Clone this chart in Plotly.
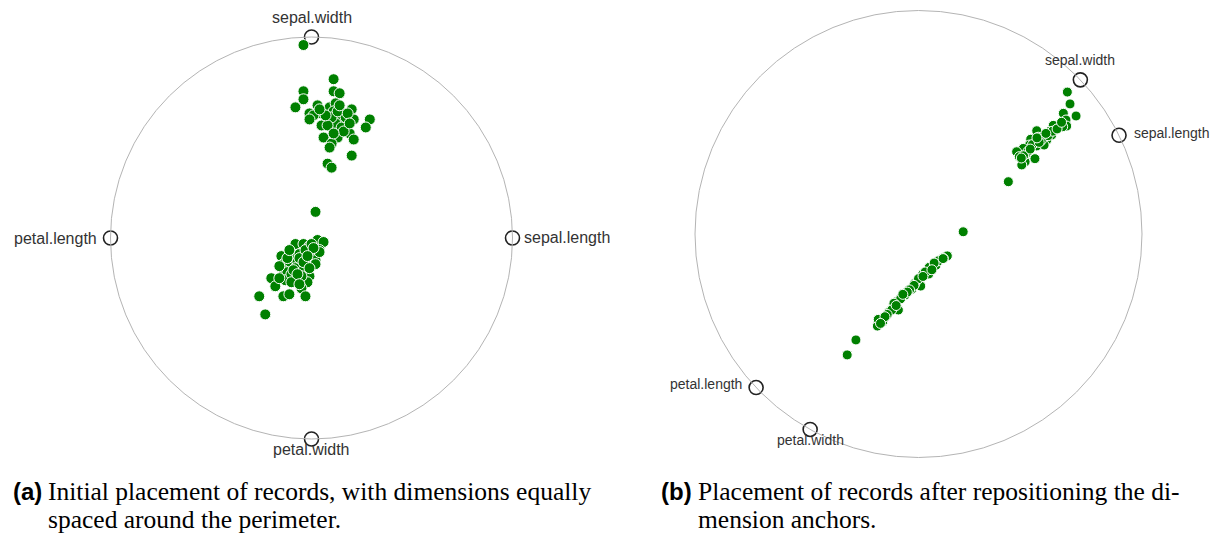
import numpy as np
import plotly.graph_objects as go

W, H = 1224, 542

# Dimension names and anchor angles (degrees) on the unit circle
dims = ["sepal.width", "sepal.length", "petal.length", "petal.width"]
angles_a = [90, 0, 180, 270]
angles_b = [43.6, 26.2, 223.4, 241.0]

# (a) record positions in unit-circle coordinates
xa_top = [-0.04, 0.11, -0.04, 0.11, 0.14, -0.04, -0.08, 0.03, 0.09, 0.12, 0.11, -0.01,
          0.05, 0.01, -0.01, 0.20, 0.16, 0.15, 0.21, 0.13, 0.29, 0.27, 0.05, 0.11,
          0.16, 0.18, 0.14, 0.19, 0.21, 0.13, 0.06, 0.10, 0.09, 0.20, 0.08, 0.10,
          0.14, 0.12, 0.15, 0.17, 0.10, 0.08, 0.13, 0.18, 0.16, 0.11, 0.07, 0.19, 0.14, 0.04]
ya_top = [0.96, 0.79, 0.73, 0.73, 0.72, 0.69, 0.65, 0.66, 0.65, 0.67, 0.63, 0.62,
          0.62, 0.61, 0.59, 0.64, 0.62, 0.59, 0.59, 0.59, 0.59, 0.55, 0.56, 0.55,
          0.57, 0.56, 0.54, 0.52, 0.49, 0.50, 0.50, 0.47, 0.45, 0.41, 0.37, 0.35,
          0.60, 0.57, 0.55, 0.60, 0.60, 0.56, 0.63, 0.62, 0.53, 0.52, 0.61, 0.57, 0.66, 0.64]
xa_low = [0.02, 0.03, 0.06, -0.08, -0.04, -0.01, 0.04, -0.15, -0.10, -0.06, 0.00, -0.14,
          -0.11, -0.07, -0.02, 0.02, 0.02, -0.08, -0.04, -0.14, -0.12, -0.01, -0.20, -0.13,
          -0.08, -0.02, -0.18, -0.05, -0.14, -0.11, -0.03, -0.26, -0.23, -0.16, 0.04, -0.10,
          -0.06, -0.09, -0.03, -0.12, -0.05, 0.00, -0.10, -0.04, 0.01, -0.07, -0.02, -0.11,
          -0.16, -0.06, -0.01]
ya_low = [0.13, -0.01, -0.02, -0.03, -0.03, -0.04, -0.06, -0.09, -0.08, -0.08, -0.08, -0.13,
          -0.13, -0.12, -0.13, -0.11, -0.13, -0.15, -0.16, -0.16, -0.17, -0.19, -0.20, -0.21,
          -0.21, -0.22, -0.24, -0.25, -0.29, -0.28, -0.29, -0.29, -0.38, -0.20, -0.07, -0.18,
          -0.10, -0.16, -0.06, -0.10, -0.19, -0.03, -0.22, -0.12, -0.05, -0.18, -0.09, -0.06,
          -0.14, -0.23, -0.15]

# (b) record positions after moving the anchors
xb_top = [0.666, 0.678, 0.648, 0.705, 0.660, 0.663, 0.645, 0.603, 0.618, 0.585, 0.596, 0.566,
          0.529, 0.536, 0.574, 0.502, 0.496, 0.529, 0.562, 0.469, 0.491, 0.439, 0.451, 0.521,
          0.477, 0.462, 0.402, 0.55, 0.51, 0.58, 0.49, 0.60, 0.54, 0.47, 0.62, 0.53, 0.57,
          0.50, 0.64, 0.46]
yb_top = [0.635, 0.582, 0.540, 0.528, 0.510, 0.483, 0.480, 0.486, 0.468, 0.458, 0.443, 0.447,
          0.462, 0.433, 0.421, 0.424, 0.398, 0.394, 0.398, 0.383, 0.364, 0.368, 0.346, 0.337,
          0.323, 0.309, 0.234, 0.42, 0.40, 0.44, 0.37, 0.46, 0.41, 0.35, 0.47, 0.43, 0.45,
          0.38, 0.50, 0.34]
xb_low = [0.20, 0.129, 0.111, 0.078, 0.048, 0.046, 0.019, 0.010, -0.016, -0.030, -0.060, -0.068,
          -0.098, -0.090, -0.131, -0.113, -0.160, -0.184, -0.180, -0.280, -0.319,
          0.09, 0.07, 0.03, 0.00, -0.02, -0.04, -0.05, -0.08, -0.11, -0.12, -0.14, -0.15,
          -0.17, 0.06, -0.07, 0.02, -0.10, 0.11]
yb_low = [0.01, -0.098, -0.109, -0.140, -0.149, -0.179, -0.179, -0.233, -0.221, -0.247, -0.273, -0.268,
          -0.303, -0.340, -0.348, -0.325, -0.392, -0.412, -0.382, -0.474, -0.541,
          -0.12, -0.13, -0.17, -0.20, -0.23, -0.25, -0.26, -0.29, -0.31, -0.34, -0.36, -0.37,
          -0.40, -0.16, -0.27, -0.19, -0.32, -0.11]

GREEN = "#008000"
LABEL = "#333333"

# pixel geometry of each panel: (centre x, centre y, radius)
panels = {
    "a": dict(cx=311.5, cy=238.0, r=201.0, xs=(0, 612), suffix=""),
    "b": dict(cx=918.5, cy=234.0, r=223.5, xs=(612, 1224), suffix="2"),
}

fig = go.Figure()
layout = dict(width=W, height=H, margin=dict(l=0, r=0, t=0, b=0),
              paper_bgcolor="white", plot_bgcolor="white", showlegend=False,
              shapes=[], annotations=[])


def axis_ranges(p):
    x_left, x_right = p["xs"]
    xr = [(x_left - p["cx"]) / p["r"], (x_right - p["cx"]) / p["r"]]
    yr = [(p["cy"] - H) / p["r"], p["cy"] / p["r"]]
    return xr, yr


def add_panel(key, angles, xs, ys, marker_size, label_size, label_offsets):
    p = panels[key]
    sfx = p["suffix"]
    xr, yr = axis_ranges(p)
    layout["xaxis" + sfx] = dict(domain=[p["xs"][0] / W, p["xs"][1] / W], range=xr,
                                 visible=False, fixedrange=True, anchor="y" + sfx)
    layout["yaxis" + sfx] = dict(domain=[0, 1], range=yr, visible=False, fixedrange=True,
                                 anchor="x" + sfx)
    xref, yref = "x" + sfx, "y" + sfx

    layout["shapes"].append(dict(type="circle", xref=xref, yref=yref,
                                 x0=-1, x1=1, y0=-1, y1=1,
                                 line=dict(color="#b4b4b4", width=1)))

    th = np.radians(angles)
    ax, ay = np.cos(th), np.sin(th)
    fig.add_trace(go.Scatter(x=ax, y=ay, mode="markers", xaxis=xref, yaxis=yref,
                             marker=dict(size=14, color="white",
                                         line=dict(color="#222222", width=1.6)),
                             hoverinfo="skip"))
    fig.add_trace(go.Scatter(x=xs, y=ys, mode="markers", xaxis=xref, yaxis=yref,
                             marker=dict(size=marker_size, color=GREEN,
                                         line=dict(color="white", width=1)),
                             hoverinfo="skip"))
    for name, x, y in zip(dims, ax, ay):
        xanchor, dx, dy = label_offsets[name]
        layout["annotations"].append(dict(
            x=x, y=y, xref=xref, yref=yref, text=name, showarrow=False,
            xanchor=xanchor, yanchor="middle", xshift=dx, yshift=dy,
            font=dict(family="Liberation Sans, Arial, sans-serif", size=label_size, color=LABEL)))


add_panel("a", angles_a, xa_top + xa_low, ya_top + ya_low, 11, 16, {
    "sepal.width": ("center", 0, 20),
    "sepal.length": ("left", 9, 1),
    "petal.length": ("right", -12, 0),
    "petal.width": ("center", 0, -10),
})
add_panel("b", angles_b, xb_top + xb_low, yb_top + yb_low, 10, 14, {
    "sepal.width": ("center", 0, 20),
    "sepal.length": ("left", 13, 2),
    "petal.length": ("right", -12, 4),
    "petal.width": ("center", 0, -11),
})

# sub-figure captions
captions = [
    ("(a)", "Initial placement of records, with dimensions equally", "spaced around the perimeter.", 12, 47),
    ("(b)", "Placement of records after repositioning the di-", "mension anchors.", 660, 697),
]
serif = dict(family="Liberation Serif, Times New Roman, serif", size=25.5, color="black")
sans_b = dict(family="Liberation Sans, Arial, sans-serif", size=24, color="black")
for tag, line1, line2, x_tag, x_txt in captions:
    for text, xp, yp, font in [(f"<b>{tag}</b>", x_tag, 491, sans_b),
                               (line1, x_txt, 491, serif),
                               (line2, x_txt, 519, serif)]:
        layout["annotations"].append(dict(
            x=xp / W, y=1 - yp / H, xref="paper", yref="paper", text=text,
            showarrow=False, xanchor="left", yanchor="middle", borderpad=0,
            font=font))

fig.update_layout(**layout)
fig.write_html("out.html")
